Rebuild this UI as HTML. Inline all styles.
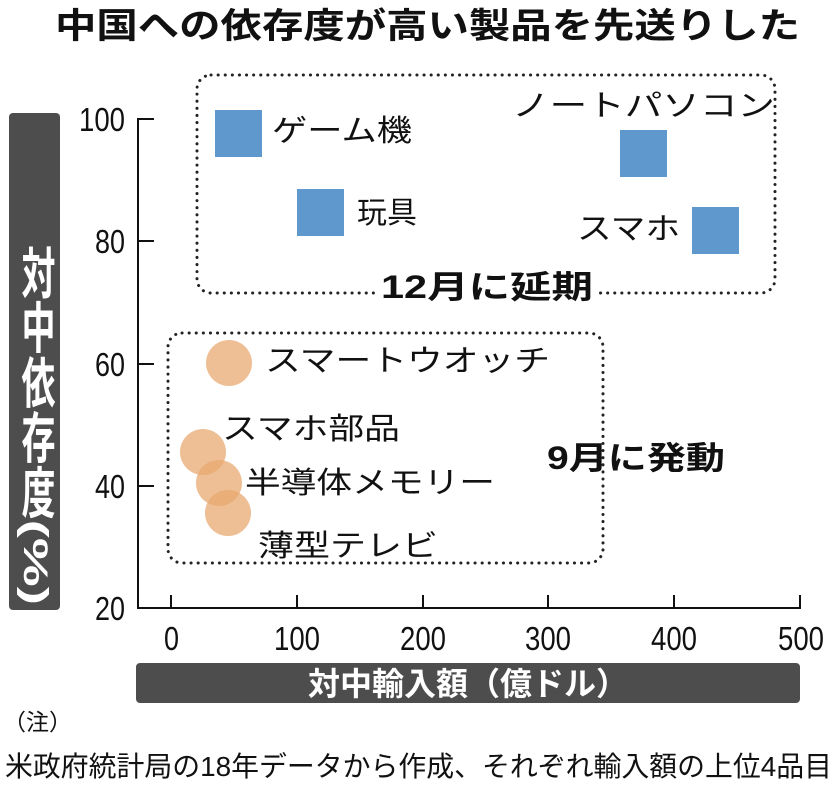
<!DOCTYPE html>
<html><head><meta charset="utf-8"><style>
html,body{margin:0;padding:0;background:#fff;}
svg{display:block;font-family:"Liberation Sans","Noto Sans CJK JP",sans-serif;}
</style></head><body>
<svg width="838" height="787" viewBox="0 0 838 787" xmlns="http://www.w3.org/2000/svg">
<text x="55" y="38" font-size="35" font-weight="bold" textLength="745" lengthAdjust="spacingAndGlyphs" fill="#111">中国への依存度が高い製品を先送りした</text>

<rect x="9" y="113" width="51" height="497" rx="4" fill="#4d4d4d"/>
<text x="35" y="245" font-size="34" font-weight="bold" fill="#fff" writing-mode="tb" glyph-orientation-vertical="0" textLength="360" lengthAdjust="spacingAndGlyphs">対中依存度(%)</text>

<rect x="136" y="663" width="664" height="40" rx="4" fill="#4d4d4d"/>
<text x="468" y="695" font-size="32" font-weight="bold" fill="#fff" text-anchor="middle">対中輸入額（億ドル）</text>

<g stroke="#111" stroke-width="2" fill="none">
<line x1="138" y1="118" x2="138" y2="609"/>
<line x1="137" y1="608" x2="801" y2="608"/>
<line x1="138" y1="119" x2="154" y2="119"/>
<line x1="138" y1="241" x2="154" y2="241"/>
<line x1="138" y1="364" x2="154" y2="364"/>
<line x1="138" y1="486" x2="154" y2="486"/>
<line x1="171" y1="608" x2="171" y2="595"/>
<line x1="297" y1="608" x2="297" y2="595"/>
<line x1="423" y1="608" x2="423" y2="595"/>
<line x1="548" y1="608" x2="548" y2="595"/>
<line x1="674" y1="608" x2="674" y2="595"/>
<line x1="800" y1="608" x2="800" y2="595"/>
</g>
<g font-size="33" fill="#111">
<text x="79" y="131" textLength="46" lengthAdjust="spacingAndGlyphs">100</text>
<text x="95" y="253" textLength="30" lengthAdjust="spacingAndGlyphs">80</text>
<text x="95" y="376" textLength="30" lengthAdjust="spacingAndGlyphs">60</text>
<text x="95" y="498" textLength="30" lengthAdjust="spacingAndGlyphs">40</text>
<text x="95" y="620" textLength="30" lengthAdjust="spacingAndGlyphs">20</text>
</g>
<g font-size="33" fill="#111">
<text x="164" y="650" textLength="15" lengthAdjust="spacingAndGlyphs">0</text>
<text x="274" y="650" textLength="46" lengthAdjust="spacingAndGlyphs">100</text>
<text x="400" y="650" textLength="46" lengthAdjust="spacingAndGlyphs">200</text>
<text x="525" y="650" textLength="46" lengthAdjust="spacingAndGlyphs">300</text>
<text x="651" y="650" textLength="46" lengthAdjust="spacingAndGlyphs">400</text>
<text x="778" y="650" textLength="46" lengthAdjust="spacingAndGlyphs">500</text>
</g>

<rect x="197" y="75" width="578" height="218" rx="14" fill="none" stroke="#222" stroke-width="3" stroke-dasharray="0.1 7" stroke-linecap="round"/>
<rect x="168" y="333" width="435" height="230" rx="14" fill="none" stroke="#222" stroke-width="3" stroke-dasharray="0.1 7" stroke-linecap="round"/>

<g fill="#5f98cc">
<rect x="215" y="110" width="47" height="47"/>
<rect x="297" y="189" width="47" height="47"/>
<rect x="620" y="130" width="47" height="47"/>
<rect x="692" y="207" width="47" height="47"/>
</g>
<g fill="#e8a870" fill-opacity="0.75">
<circle cx="229" cy="363" r="23"/>
<circle cx="203" cy="452" r="23"/>
<circle cx="219" cy="483" r="23"/>
<circle cx="228" cy="513" r="23"/>
</g>

<g font-size="30" fill="#111">
<text x="272" y="141" textLength="140" lengthAdjust="spacingAndGlyphs">ゲーム機</text>
<text x="357" y="223">玩具</text>
<text x="512" y="116" textLength="263" lengthAdjust="spacingAndGlyphs">ノートパソコン</text>
<text x="577" y="239" textLength="103" lengthAdjust="spacingAndGlyphs">スマホ</text>
<text x="265" y="371" textLength="285" lengthAdjust="spacingAndGlyphs">スマートウオッチ</text>
<text x="222" y="439" textLength="178" lengthAdjust="spacingAndGlyphs">スマホ部品</text>
<text x="245" y="493" textLength="250" lengthAdjust="spacingAndGlyphs">半導体メモリー</text>
<text x="258" y="556" textLength="180" lengthAdjust="spacingAndGlyphs">薄型テレビ</text>
</g>
<rect x="376" y="266" width="222" height="40" fill="#fff"/>
<text x="487" y="298" font-size="32" font-weight="bold" fill="#111" text-anchor="middle" textLength="212" lengthAdjust="spacingAndGlyphs">12月に延期</text>
<text x="547" y="469" font-size="32" font-weight="bold" fill="#111" textLength="178" lengthAdjust="spacingAndGlyphs">9月に発動</text>

<text x="3" y="730" font-size="23" fill="#111">（注）</text>
<text x="5" y="776" font-size="28" fill="#111" textLength="827" lengthAdjust="spacingAndGlyphs">米政府統計局の18年データから作成、それぞれ輸入額の上位4品目</text>
</svg>
</body></html>
